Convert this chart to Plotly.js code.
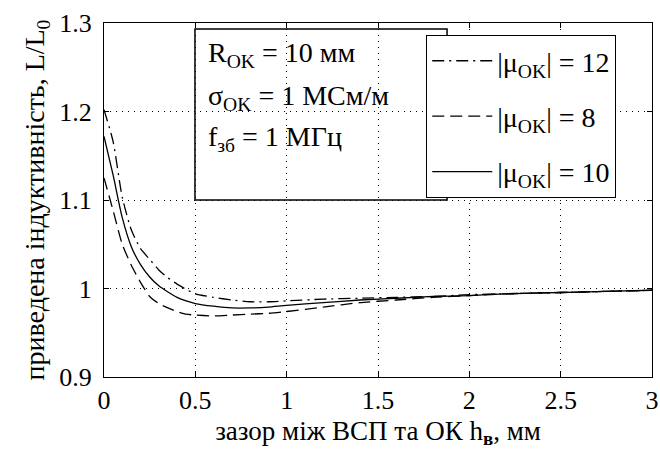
<!DOCTYPE html>
<html>
<head>
<meta charset="utf-8">
<script src="https://cdn.plot.ly/plotly-3.0.1.min.js"></script>
<style>html,body{margin:0;padding:0;background:#fff;}#chart{width:660px;height:450px;}</style>
</head>
<body>
<div id="chart"></div>
<script>
// gap h_v, mm
const gap = [0, 0.05, 0.1, 0.15, 0.2, 0.25, 0.3, 0.35, 0.4, 0.45, 0.5, 0.6, 0.7, 0.8, 0.9, 1.0, 1.2, 1.4, 1.6, 1.8, 2.0, 2.2, 2.4, 2.6, 2.8, 3.0];
// normalised inductance L/L0
const mu12 = [1.202, 1.166, 1.103, 1.066, 1.045, 1.033, 1.021, 1.012, 1.005, 0.999, 0.994, 0.990, 0.987, 0.985, 0.985, 0.986, 0.988, 0.989, 0.990, 0.991, 0.993, 0.994, 0.995, 0.996, 0.997, 0.998];
const mu8  = [1.125, 1.088, 1.050, 1.026, 1.007, 0.991, 0.983, 0.978, 0.974, 0.971, 0.970, 0.969, 0.970, 0.971, 0.972, 0.974, 0.979, 0.984, 0.987, 0.990, 0.992, 0.994, 0.995, 0.996, 0.997, 0.998];
const mu10 = [1.172, 1.128, 1.080, 1.047, 1.027, 1.013, 1.003, 0.996, 0.990, 0.986, 0.983, 0.980, 0.978, 0.978, 0.979, 0.981, 0.984, 0.987, 0.989, 0.991, 0.992, 0.994, 0.995, 0.996, 0.997, 0.998];

const seriesNames = ['|μ<sub>OK</sub>| = 12', '|μ<sub>OK</sub>| = 8', '|μ<sub>OK</sub>| = 10'];
const xTickVals = [0, 0.5, 1, 1.5, 2, 2.5, 3];
const xTickText = ['0', '0.5', '1', '1.5', '2', '2.5', '3'];
const yTickVals = [0.9, 1.0, 1.1, 1.2, 1.3];
const yTickText = ['0.9', '1', '1.1', '1.2', '1.3'];
const boxLines = ['R<sub>OK</sub> = 10 мм', 'σ<sub>OK</sub> = 1 МСм/м', 'f<sub>зб</sub> = 1 МГц'];

const FONT = 'Liberation Serif, Times New Roman, serif';
const dashes = ['12px,5px,2px,5px', '12px,6px', 'solid'];
const ys = [mu12, mu8, mu10];

const traces = ys.map((y, i) => ({
  x: gap, y: y, type: 'scatter', mode: 'lines',
  name: seriesNames[i], legendgroup: 'g' + i,
  line: {color: '#000', width: 1.3, dash: dashes[i], shape: 'spline', smoothing: 0.6}
}));

const boxY = [0.912, 0.79, 0.675];
const annotations = boxLines.map((t, i) => ({
  xref: 'paper', yref: 'paper', x: 0.186, y: boxY[i], xanchor: 'left', yanchor: 'middle',
  text: t, showarrow: false, font: {family: FONT, size: 28, color: '#000'}
}));

const layout = {
  width: 660, height: 450,
  margin: {l: 104, r: 8, t: 23, b: 73},
  paper_bgcolor: '#fff', plot_bgcolor: '#fff',
  font: {family: FONT, size: 26, color: '#000'},
  showlegend: true,
  legend: {
    x: 0.588, y: 0.966, xanchor: 'left', yanchor: 'top',
    bgcolor: '#fff', bordercolor: '#000', borderwidth: 1,
    font: {family: FONT, size: 28, color: '#000'},
    tracegroupgap: 16, itemwidth: 60
  },
  xaxis: {
    range: [0, 3], tickvals: xTickVals, ticktext: xTickText,
    ticks: 'inside', ticklen: 5, tickcolor: '#000',
    showline: true, linecolor: '#000', linewidth: 1, mirror: 'ticks',
    showgrid: true, gridcolor: '#000', gridwidth: 1, griddash: '1px,5px',
    zeroline: false,
    tickfont: {family: FONT, size: 26},
    title: {text: 'зазор між ВСП та ОК h<sub><b>в</b></sub>, мм', font: {family: FONT, size: 27}, standoff: 6}
  },
  yaxis: {
    range: [0.9, 1.3], tickvals: yTickVals, ticktext: yTickText,
    ticks: 'inside', ticklen: 5, tickcolor: '#000',
    showline: true, linecolor: '#000', linewidth: 1, mirror: 'ticks',
    showgrid: true, gridcolor: '#000', gridwidth: 1, griddash: '1px,5px',
    zeroline: false, ticklabelstandoff: 6,
    tickfont: {family: FONT, size: 26},
    title: {text: 'приведена індуктивність, L/L<sub>0</sub>', font: {family: FONT, size: 28}, standoff: 6}
  },
  shapes: [{
    type: 'rect', xref: 'paper', yref: 'paper', x0: 0.166, x1: 0.626, y0: 0.5, y1: 0.983,
    line: {color: '#000', width: 1.5}, fillcolor: 'rgba(0,0,0,0)', layer: 'above'
  }],
  annotations: annotations
};

Plotly.newPlot('chart', traces, layout, {displayModeBar: false, staticPlot: true});
</script>
</body>
</html>
